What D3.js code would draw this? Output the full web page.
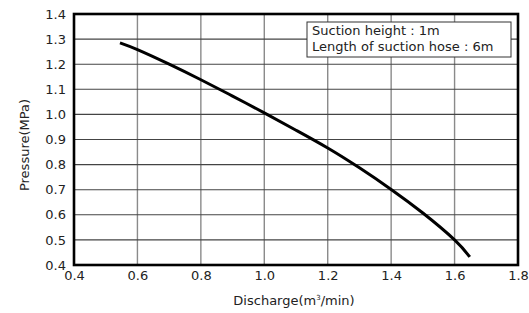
<!DOCTYPE html>
<html>
<head>
<meta charset="utf-8">
<script src="https://cdn.jsdelivr.net/npm/d3@7"></script>
<style>
  body { margin: 0; background: #fff; }
  text { font-family: "DejaVu Sans", sans-serif; fill: #222; }
</style>
</head>
<body>
<svg id="chart" width="529" height="313"></svg>
<script>
const width = 529;
const height = 313;

// data
const discharge = [0.545, 0.6, 0.7, 0.8, 0.9, 1.0, 1.1, 1.2, 1.3, 1.4, 1.5, 1.6, 1.648];
const pressure = [1.285, 1.258, 1.2, 1.138, 1.073, 1.006, 0.937, 0.866, 0.787, 0.701, 0.607, 0.5, 0.432];
const xTicks = [0.4, 0.6, 0.8, 1.0, 1.2, 1.4, 1.6, 1.8];
const yTicks = [0.4, 0.5, 0.6, 0.7, 0.8, 0.9, 1.0, 1.1, 1.2, 1.3, 1.4];
const legendLines = ["Suction height : 1m", "Length of suction hose : 6m"];

const margin = { top: 14, right: 11, bottom: 48, left: 74 };

const svg = d3.select("#chart");

const x = d3.scaleLinear().domain([0.4, 1.8]).range([margin.left, width - margin.right]);
const y = d3.scaleLinear().domain([0.4, 1.4]).range([height - margin.bottom, margin.top]);

// grid
svg.append("g")
  .selectAll("line")
  .data(xTicks.slice(1, -1))
  .enter()
  .append("line")
  .attr("x1", (d) => x(d))
  .attr("x2", (d) => x(d))
  .attr("y1", y(0.4))
  .attr("y2", y(1.4))
  .attr("stroke", "#8a8a8a")
  .attr("stroke-width", 1.4);

svg.append("g")
  .selectAll("line")
  .data(yTicks.slice(1, -1))
  .enter()
  .append("line")
  .attr("x1", x(0.4))
  .attr("x2", x(1.8))
  .attr("y1", (d) => y(d))
  .attr("y2", (d) => y(d))
  .attr("stroke", "#444")
  .attr("stroke-width", 1.1);

// axes (labels only, frame drawn separately)
const xAxis = svg.append("g")
  .attr("transform", `translate(0,${y(0.4)})`)
  .call(d3.axisBottom(x).tickValues(xTicks).tickFormat(d3.format(".1f")).tickSize(0).tickPadding(6));
xAxis.select(".domain").remove();
xAxis.selectAll("text").style("font-size", "13px").attr("fill", "#222");

const yAxis = svg.append("g")
  .attr("transform", `translate(${x(0.4)},0)`)
  .call(d3.axisLeft(y).tickValues(yTicks).tickFormat(d3.format(".1f")).tickSize(0).tickPadding(8));
yAxis.select(".domain").remove();
yAxis.selectAll("text").style("font-size", "13px").attr("fill", "#222");

// curve
const pts = discharge.map((d, i) => [d, pressure[i]]);
svg.append("path")
  .datum(pts)
  .attr("fill", "none")
  .attr("stroke", "#000")
  .attr("stroke-width", 3)
  .attr("d", d3.line().x((d) => x(d[0])).y((d) => y(d[1])).curve(d3.curveNatural));

// frame
svg.append("rect")
  .attr("x", x(0.4))
  .attr("y", y(1.4))
  .attr("width", x(1.8) - x(0.4))
  .attr("height", y(0.4) - y(1.4))
  .attr("fill", "none")
  .attr("stroke", "#000")
  .attr("stroke-width", 2.6);

// legend box
const lg = svg.append("g").attr("transform", "translate(307,22)");
lg.append("rect")
  .attr("width", 204)
  .attr("height", 35)
  .attr("fill", "#fff")
  .attr("stroke", "#333")
  .attr("stroke-width", 1);
lg.selectAll("text")
  .data(legendLines)
  .enter()
  .append("text")
  .attr("x", 5)
  .attr("y", (d, i) => 13 + i * 16)
  .style("font-size", "13px")
  .text((d) => d);

// axis titles
const xt = svg.append("text")
  .attr("x", 294)
  .attr("y", 305)
  .attr("text-anchor", "middle")
  .style("font-size", "13px");
xt.append("tspan").text("Discharge(m");
xt.append("tspan").attr("dy", -5).style("font-size", "7px").text("3");
xt.append("tspan").attr("dy", 5).text("/min)");

svg.append("text")
  .attr("transform", `translate(29,145) rotate(-90)`)
  .attr("text-anchor", "middle")
  .style("font-size", "13px")
  .text("Pressure(MPa)");
</script>
</body>
</html>
